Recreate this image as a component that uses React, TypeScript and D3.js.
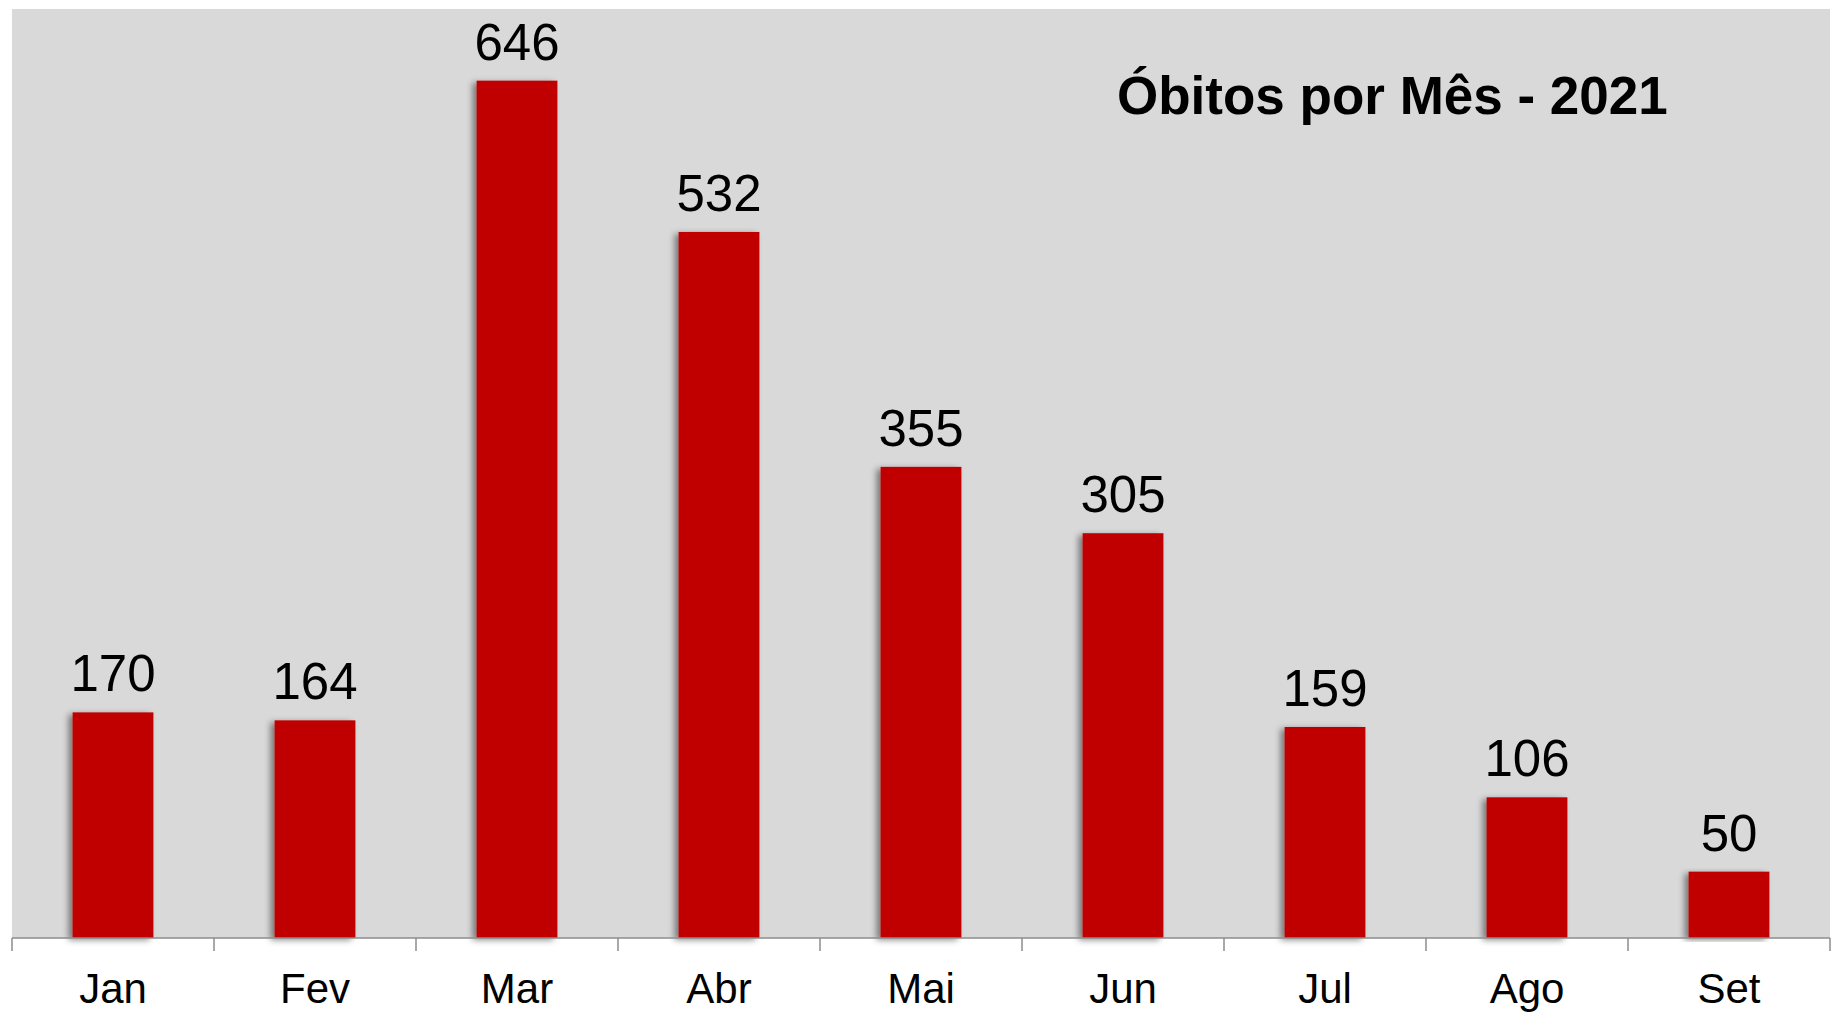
import React from "react";
import * as d3 from "d3";

const months = ["Jan", "Fev", "Mar", "Abr", "Mai", "Jun", "Jul", "Ago", "Set"];
const deaths = [170, 164, 646, 532, 355, 305, 159, 106, 50];
const title = "Óbitos por Mês - 2021";

const W = 1837;
const H = 1013;
const plotLeft = 12;
const plotRight = 1830;
const plotTop = 9;
const plotBottom = 938;

export default function App() {
  const x = d3.scaleBand<string>().domain(months).range([plotLeft, plotRight]).padding(0);
  const y = d3.scaleLinear().domain([0, 700]).range([plotBottom, plotTop]);
  const bw = x.bandwidth();
  const barW = bw * 0.4;
  const font = "'Liberation Sans', Arial, Helvetica, sans-serif";
  const ticks = months.map((m) => x(m) as number).concat([plotRight]);

  return (
    <svg
      width={W}
      height={H}
      style={{ position: "absolute", left: 0, top: 0, background: "#ffffff" }}
    >
      <defs>
        <filter id="shadow" x="-20%" y="-5%" width="140%" height="110%">
          <feDropShadow dx={-4} dy={2} stdDeviation={3} floodColor="#000" floodOpacity={0.45} />
        </filter>
      </defs>
      <rect x={plotLeft} y={plotTop} width={plotRight - plotLeft} height={plotBottom - plotTop} fill="#d9d9d9" />
      {months.map((m, i) => (
        <rect
          key={m}
          x={(x(m) as number) + (bw - barW) / 2}
          y={y(deaths[i])}
          width={barW}
          height={plotBottom - y(deaths[i])}
          fill="#c00000"
          filter="url(#shadow)"
        />
      ))}
      <line x1={plotLeft} x2={plotRight} y1={plotBottom} y2={plotBottom} stroke="#8c8c8c" strokeWidth={1.5} />
      {ticks.map((t, i) => (
        <line key={i} x1={t} x2={t} y1={plotBottom} y2={plotBottom + 13} stroke="#8c8c8c" strokeWidth={1.5} />
      ))}
      {months.map((m, i) => (
        <text
          key={"v" + m}
          x={(x(m) as number) + bw / 2}
          y={y(deaths[i]) - 21}
          textAnchor="middle"
          fontFamily={font}
          fontSize={51}
          fill="#000"
        >
          {deaths[i]}
        </text>
      ))}
      {months.map((m) => (
        <text
          key={"l" + m}
          x={(x(m) as number) + bw / 2}
          y={1003}
          textAnchor="middle"
          fontFamily={font}
          fontSize={42}
          fill="#000"
        >
          {m}
        </text>
      ))}
      <text
        x={1117}
        y={114}
        fontFamily={font}
        fontSize={53}
        fontWeight="bold"
        fill="#000"
      >
        {title}
      </text>
    </svg>
  );
}
